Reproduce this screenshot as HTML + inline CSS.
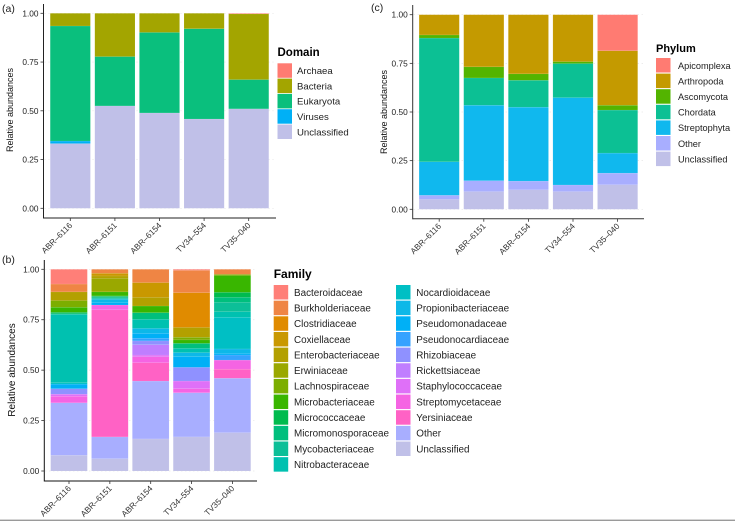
<!DOCTYPE html>
<html>
<head>
<meta charset="utf-8">
<title>Relative abundances by sample</title>
<style>
html,body{margin:0;padding:0;background:#fff;width:735px;height:521px;overflow:hidden}
svg{display:block;font-family:"Liberation Sans",sans-serif}
</style>
</head>
<body>
<svg id="figure" width="735" height="521" viewBox="0 0 735 521" xmlns="http://www.w3.org/2000/svg"></svg>
<script>
const samples = ['ABR\u20136116','ABR\u20136151','ABR\u20136154','TV34\u2013554','TV35\u2013040'];
const yTicks = [0, 0.25, 0.5, 0.75, 1];
const yTickLabels = ['0.00','0.25','0.50','0.75','1.00'];

const domainNames = ['Archaea','Bacteria','Eukaryota','Viruses','Unclassified'];
const domainColors = ['#FF7B72','#A3A500','#0ABF7D','#00B0F6','#C0C0E8'];
const domainArchaea = [0, 0, 0, 0, 0.003];
const domainBacteria = [0.065, 0.222, 0.098, 0.079, 0.337];
const domainEukaryota = [0.590, 0.253, 0.413, 0.463, 0.150];
const domainViruses = [0.013, 0, 0, 0, 0];
const domainUnclassified = [0.332, 0.525, 0.489, 0.458, 0.510];

const phylumNames = ['Apicomplexa','Arthropoda','Ascomycota','Chordata','Streptophyta','Other','Unclassified'];
const phylumColors = ['#FF7B72','#C49A00','#53B400','#0CC094','#10B8EE','#A8AEFF','#C0C0E8'];
const phylumApicomplexa = [0, 0, 0, 0, 0.185];
const phylumArthropoda = [0.104, 0.268, 0.304, 0.241, 0.280];
const phylumAscomycota = [0.016, 0.057, 0.033, 0.010, 0.025];
const phylumChordata = [0.636, 0.140, 0.138, 0.175, 0.221];
const phylumStreptophyta = [0.172, 0.388, 0.380, 0.449, 0.103];
const phylumOther = [0.021, 0.056, 0.045, 0.034, 0.060];
const phylumUnclassified = [0.051, 0.091, 0.100, 0.091, 0.126];

const familyNames = ['Bacteroidaceae','Burkholderiaceae','Clostridiaceae','Coxiellaceae','Enterobacteriaceae','Erwiniaceae','Lachnospiraceae','Microbacteriaceae','Micrococcaceae','Micromonosporaceae','Mycobacteriaceae','Nitrobacteraceae','Nocardioidaceae','Propionibacteriaceae','Pseudomonadaceae','Pseudonocardiaceae','Rhizobiaceae','Rickettsiaceae','Staphylococcaceae','Streptomycetaceae','Yersiniaceae','Other','Unclassified'];
const familyColors = ['#FF7F78','#EF8544','#E08B00','#C99800','#B3A000','#9AA800','#7CAE00','#39B600','#00BB4E','#00BF7D','#0CBF98','#00C1B0','#00BFC4','#0DB8E8','#00B0F6','#35A2FF','#8F91FF','#C07EFF','#DF70F8','#F564E3','#FF62C5','#A8AEFF','#C0C0E8'];
const familyABR6116 = [0.073,0.039,0,0,0.043,0,0.033,0.025,0.006,0.004,0,0.339,0.007,0,0.023,0,0.027,0,0.010,0.033,0,0.260,0.078];
const familyABR6151 = [0,0.020,0,0.013,0.012,0.067,0,0.020,0.004,0.004,0.004,0.005,0,0.016,0.012,0,0,0,0,0.024,0.630,0.108,0.061];
const familyABR6154 = [0,0.066,0,0.073,0.043,0,0,0.033,0,0.033,0,0.045,0,0.024,0.025,0.013,0.019,0.051,0.008,0.030,0.091,0.287,0.159];
const familyTV34554 = [0.005,0.111,0.172,0,0.049,0,0.013,0.017,0,0.025,0,0.021,0,0.020,0.053,0,0.068,0,0.038,0.020,0,0.219,0.169];
const familyTV35040 = [0,0.025,0,0,0,0,0.006,0.083,0.025,0.025,0.046,0.028,0.157,0.022,0.008,0.025,0,0,0,0.045,0.045,0.270,0.190];

const NS = 'http://www.w3.org/2000/svg';
const fig = document.getElementById('figure');

function node(parent, tag, attrs, text) {
  const el = document.createElementNS(NS, tag);
  for (const k in attrs) el.setAttribute(k, attrs[k]);
  if (text !== undefined) el.textContent = text;
  parent.appendChild(el);
  return el;
}

function drawPanel(p) {
  const yScale = v => p.y0 + (p.y1 - p.y0) * v;
  const xBand = i => p.firstCenter + p.pitch * i;
  const g = node(fig, 'g', {});
  
  

  // dotted major gridlines
  yTicks.forEach(t => {
    const grid = node(g, 'line', {x1: p.axisX + 1, x2: p.axisEnd, y1: yScale(t), y2: yScale(t), stroke: '#dcdcdc', 'stroke-width': 0.7, 'stroke-dasharray': '1 3'});
    
    
  });

  // stacked bars: last series sits at the baseline
  samples.forEach((s, i) => {
    let cum = 0;
    for (let k = p.names.length - 1; k >= 0; k--) {
      const v = p.values[k][i];
      if (v <= 0) continue;
      const top = yScale(cum + v), bottom = yScale(cum);
      const seg = node(g, 'rect', {x: xBand(i) - p.barW / 2, y: top, width: p.barW, height: bottom - top, fill: p.colors[k], stroke: '#fff', 'stroke-opacity': 0.2, 'stroke-width': 0.4});
      
      
      cum += v;
    }
  });

  // axes
  const yAxis = node(g, 'line', {x1: p.axisX, x2: p.axisX, y1: p.axisTop, y2: p.axisBottom + 0.5, stroke: p.axisColor, 'stroke-width': 1});
  
  
  const xAxis = node(g, 'line', {x1: p.axisX, x2: p.axisEnd, y1: p.axisBottom, y2: p.axisBottom, stroke: p.axisColor, 'stroke-width': 1});
  
  

  yTicks.forEach((t, i) => {
    const tick = node(g, 'line', {x1: p.axisX - 3, x2: p.axisX, y1: yScale(t), y2: yScale(t), stroke: '#333', 'stroke-width': 0.8});
    
    
    const label = node(g, 'text', {x: p.axisX - 5, y: yScale(t) + 3, 'text-anchor': 'end', 'font-size': 8.3, fill: '#222'}, yTickLabels[i]);
    
    
  });

  samples.forEach((s, i) => {
    const x = xBand(i);
    const tick = node(g, 'line', {x1: x, x2: x, y1: p.axisBottom, y2: p.axisBottom + 3, stroke: '#333', 'stroke-width': 0.8});
    
    
    const lx = x + 2.5, ly = p.axisBottom + 8;
    const label = node(g, 'text', {x: lx, y: ly, 'text-anchor': 'end', 'font-size': 8.3, fill: '#333', transform: 'rotate(-45 ' + lx + ' ' + ly + ')'}, s);
    
    
  });

  const title = node(g, 'text', {x: 0, y: 0, 'text-anchor': 'middle', 'font-size': p.yTitleSize, fill: '#111', transform: 'translate(' + p.yTitleX + ' ' + p.yTitleY + ') rotate(-90)'}, 'Relative abundances');
  
  

  const tag = node(g, 'text', {x: p.tagX, y: p.tagY, 'font-size': 10.5, fill: '#222'}, p.tag);
  
  

  // legend
  const legendTitle = node(g, 'text', {x: p.legendX, y: p.legendTitleY, 'font-size': p.legendTitleSize, 'font-weight': 'bold', fill: '#000'}, p.legendTitle);
  
  
  p.names.forEach((n, k) => {
    const col = k < p.legendRows ? 0 : 1;
    const row = k - col * p.legendRows;
    const kx = p.legendX + col * p.legendColGap;
    const ky = p.legendY + row * p.legendPitch;
    const key = node(g, 'rect', {x: kx, y: ky, width: 14.5, height: 14.5, fill: p.colors[k]});
    
    
    const text = node(g, 'text', {x: kx + p.labelGap, y: ky + 10.8, 'font-size': p.legendFont, fill: '#222'}, n);
    
    
  });
}

function bySeries(rows) {
  return rows[0].map((_, k) => rows.map(r => r[k]));
}

drawPanel({id:'domain', tag:'(a)', tagX:2, tagY:12, y0:208.3, y1:13.3, axisX:43.5, axisTop:4, axisBottom:218, axisEnd:276,
  firstCenter:70.3, pitch:44.6, barW:40.2, axisColor:'#222', yTitleX:13, yTitleY:110, yTitleSize:9,
  names:domainNames, colors:domainColors,
  values:[domainArchaea,domainBacteria,domainEukaryota,domainViruses,domainUnclassified],
  legendTitle:'Domain', legendTitleSize:11.5, legendX:277.5, legendTitleY:56, legendY:63.3, legendPitch:15.3, legendRows:99, legendColGap:0, labelGap:19.5, legendFont:9.6});

drawPanel({id:'phylum', tag:'(c)', tagX:371, tagY:11, y0:209.3, y1:14.7, axisX:412.7, axisTop:5, axisBottom:218.7, axisEnd:644,
  firstCenter:439.2, pitch:44.6, barW:40.2, axisColor:'#333', yTitleX:387, yTitleY:112, yTitleSize:9,
  names:phylumNames, colors:phylumColors,
  values:[phylumApicomplexa,phylumArthropoda,phylumAscomycota,phylumChordata,phylumStreptophyta,phylumOther,phylumUnclassified],
  legendTitle:'Phylum', legendTitleSize:11, legendX:656, legendTitleY:52, legendY:58, legendPitch:15.6, legendRows:99, legendColGap:0, labelGap:22, legendFont:9.2});

drawPanel({id:'family', tag:'(b)', tagX:2, tagY:263, y0:471, y1:269.3, axisX:44.3, axisTop:260, axisBottom:481, axisEnd:257,
  firstCenter:69, pitch:40.85, barW:36.7, axisColor:'#111', yTitleX:15, yTitleY:370, yTitleSize:10,
  names:familyNames, colors:familyColors,
  values:bySeries([familyABR6116,familyABR6151,familyABR6154,familyTV34554,familyTV35040]),
  legendTitle:'Family', legendTitleSize:12, legendX:273.7, legendTitleY:278, legendY:285, legendPitch:15.65, legendRows:12, legendColGap:122.3, labelGap:20.3, legendFont:9.9});

const rule = node(fig, 'rect', {x: 0, y: 519.6, width: 735, height: 1.4, fill: '#9a9a9a'});


</script>
</body>
</html>
